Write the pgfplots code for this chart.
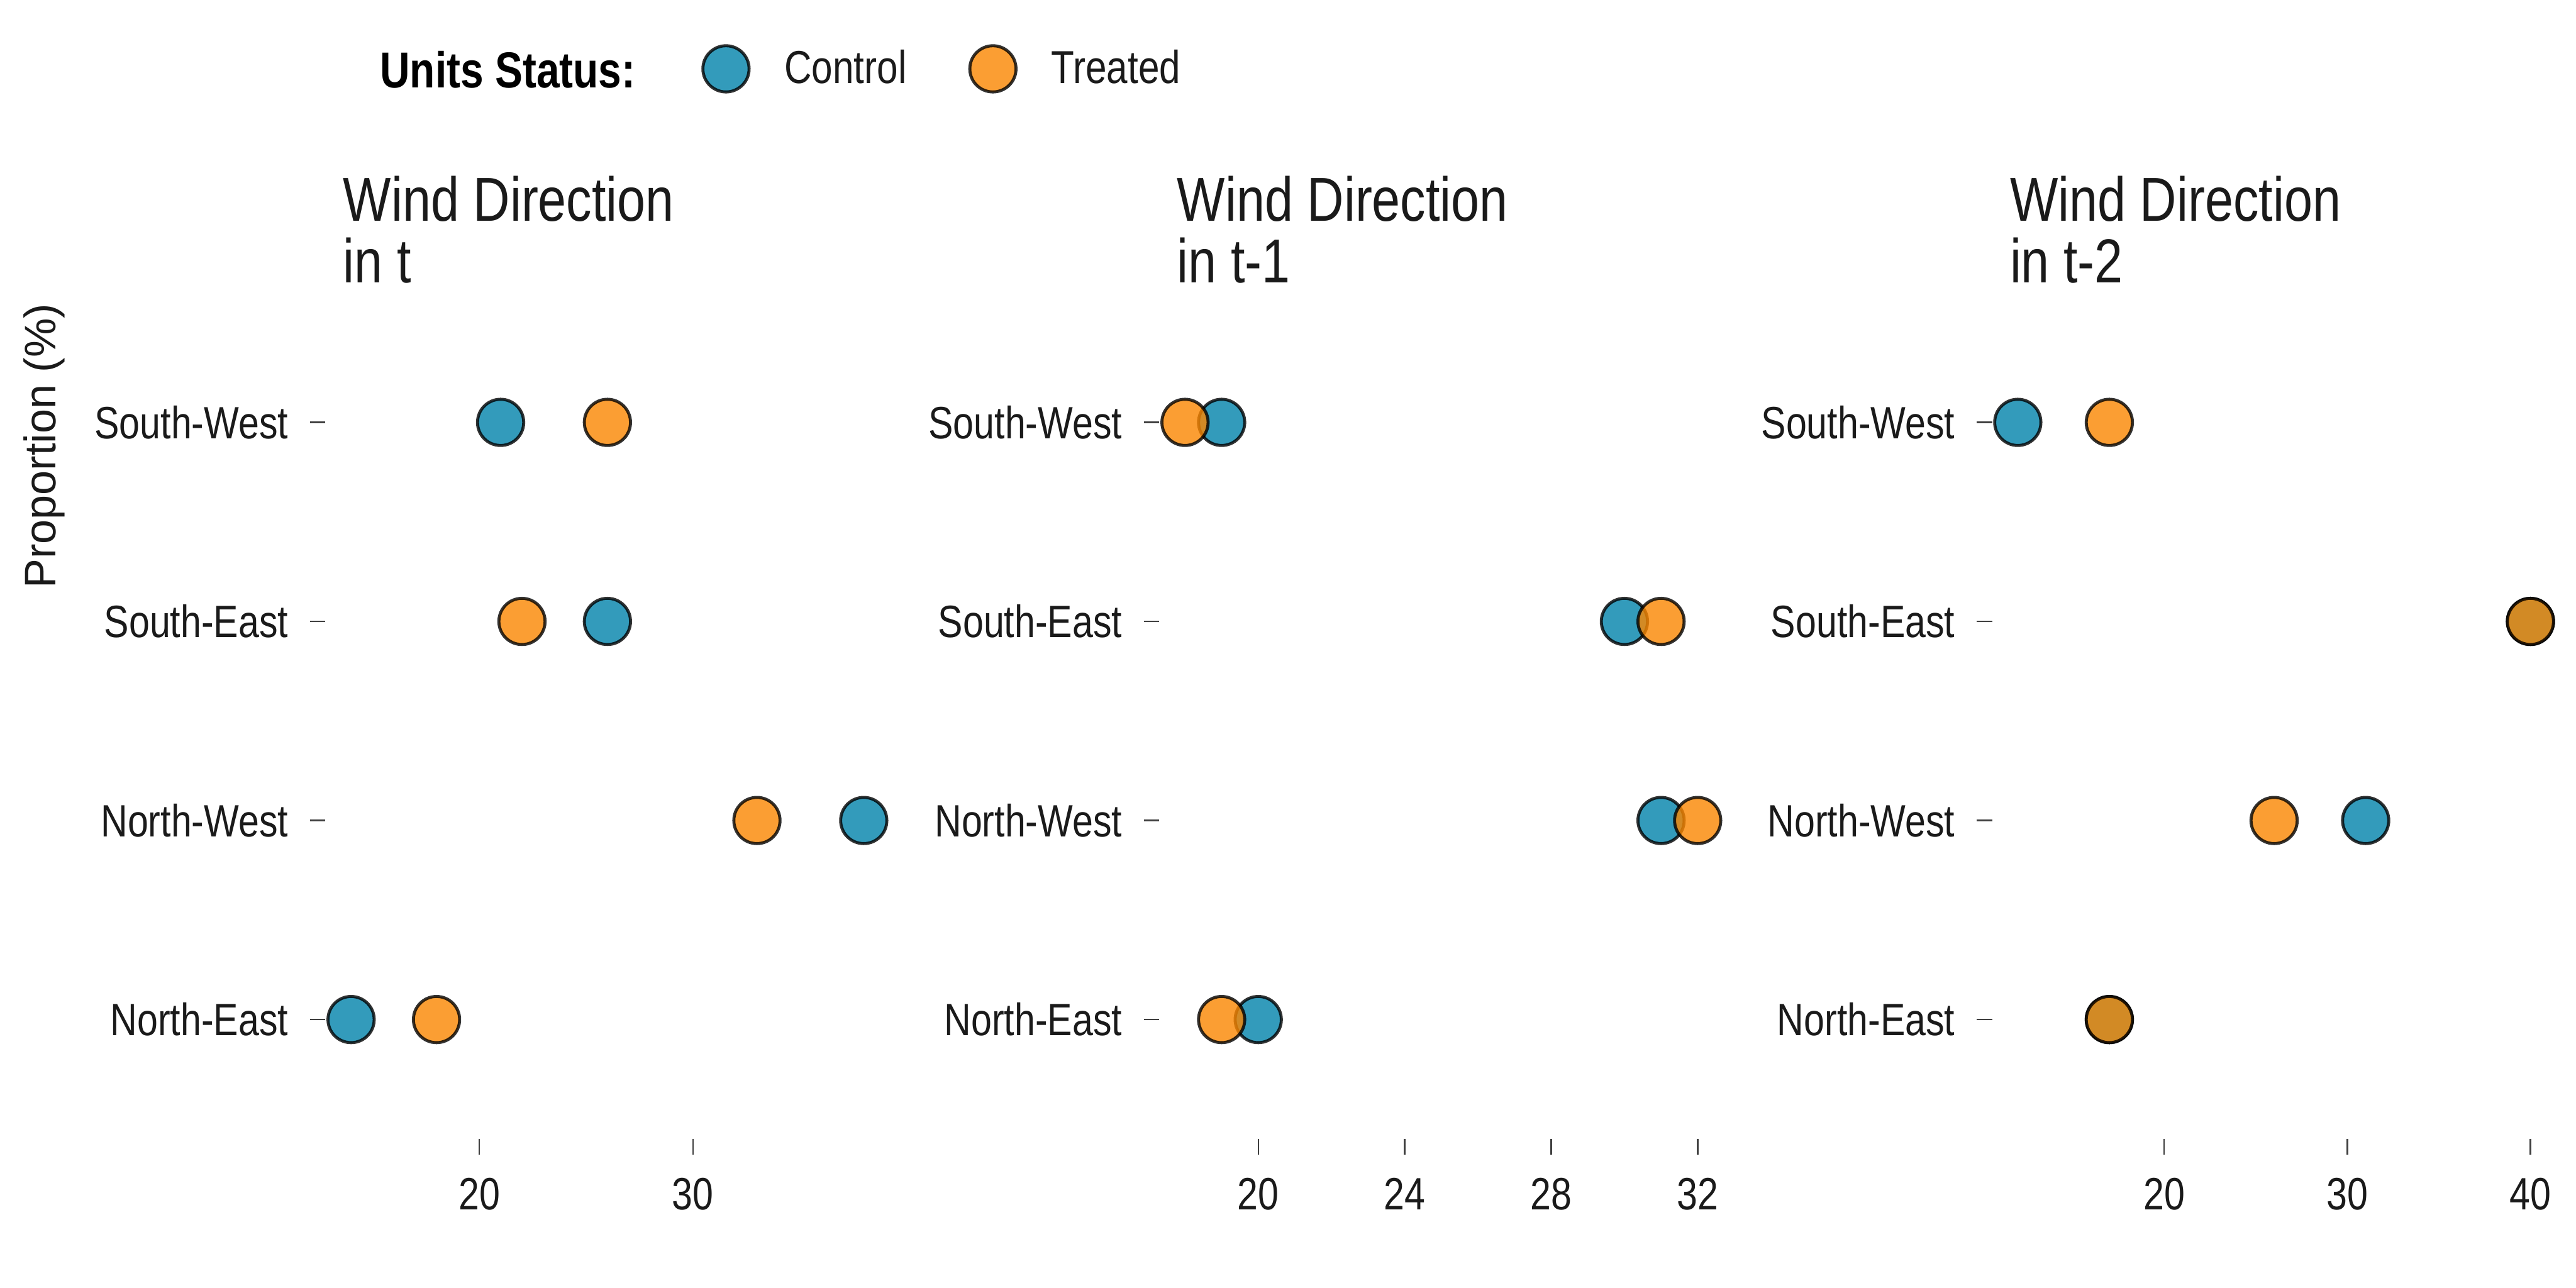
\documentclass[border=0pt]{standalone}
\usepackage{fontspec}
\setmainfont{Liberation Sans}[FakeStretch=0.82]
\newfontfamily\regfont{Liberation Sans}
\usepackage{pgfplots}
\usepackage{pgfplotstable}
\pgfplotsset{compat=1.18}
\definecolor{ctrl}{HTML}{0082AA}
\definecolor{trt}{HTML}{FA8600}
\definecolor{txt}{HTML}{1A1A1A}

% cat: 1 North-East, 2 North-West, 3 South-East, 4 South-West
\pgfplotstableread{
cat ctrl trt
1 14 18
2 38 33
3 26 22
4 21 26
}\tabA
\pgfplotstableread{
cat ctrl trt
1 20 19
2 31 32
3 30 31
4 19 18
}\tabB
\pgfplotstableread{
cat ctrl trt
1 17 17
2 31 26
3 40 40
4 12 17
}\tabC

\pgfplotsset{
 panel/.style={
  scale only axis, width=6.865cm, height=10.178cm, anchor=south west,
  ymin=0.4, ymax=4.6, ytick={1,2,3,4},
  yticklabels={North-East,North-West,South-East,South-West},
  axis line style={draw=none},
  tick align=outside, tick pos=left,
  major tick length=0.19cm,
  tick style={line width=0.5pt, color=black!75},
  ticklabel style={font=\fontsize{15.7}{18}\selectfont, text=txt},
  yticklabel style={xshift=-0.14cm},
  xticklabel style={yshift=-0.16cm},
  /pgf/number format/assume math mode=true,
  clip=false,
 },
 ctrlm/.style={only marks, mark=*, mark size=8pt, color=ctrl,
   mark options={draw=black, fill=ctrl, draw opacity=0.8, fill opacity=0.8, line width=1.05pt}},
 trtm/.style={only marks, mark=*, mark size=8pt, color=trt,
   mark options={draw=black, fill=trt, draw opacity=0.8, fill opacity=0.8, line width=1.05pt}},
}

\begin{document}
\begin{tikzpicture}
\path[use as bounding box] (0,0) rectangle (31.36cm,15.68cm);

\begin{axis}[panel, at={(3.962cm,1.814cm)}, xmin=12.8, xmax=39.2, xtick={20,30},
  legend columns=2,
  legend style={at={(axis description cs:0.6683,1.2800)}, anchor=west, draw=none, fill=none,
    inner sep=0pt, font=\fontsize{16}{18}\selectfont, text=txt,
    /tikz/every odd column/.append style={column sep=0.36cm},
    /tikz/every even column/.append style={column sep=0.7cm}},
  ]
\addplot[ctrlm] table[x=ctrl,y=cat]{\tabA};
\addlegendentry{Control}
\addplot[trtm] table[x=trt,y=cat]{\tabA};
\addlegendentry{Treated}
\end{axis}

\begin{axis}[panel, at={(14.114cm,1.814cm)}, xmin=17.3, xmax=32.7, xtick={20,24,28,32}]
\addplot[ctrlm] table[x=ctrl,y=cat]{\tabB};
\addplot[trtm] table[x=trt,y=cat]{\tabB};
\end{axis}

\begin{axis}[panel, at={(24.252cm,1.814cm)}, xmin=10.6, xmax=41.4, xtick={20,30,40}]
\addplot[ctrlm] table[x=ctrl,y=cat]{\tabC};
\addplot[trtm] table[x=trt,y=cat]{\tabC};
\end{axis}

% panel titles
\foreach \xx/\lab in {4.172/{in t}, 14.324/{in t-1}, 24.462/{in t-2}}{
  \node[anchor=base west, inner sep=0pt, text=txt, font=\fontsize{21.5}{24}\selectfont] at (\xx cm,12.986cm) {Wind Direction};
  \node[anchor=base west, inner sep=0pt, text=txt, font=\fontsize{21.5}{24}\selectfont] at (\xx cm,12.239cm) {\lab};
}
% legend title
\node[anchor=base west, inner sep=0pt, font=\fontsize{17.5}{20}\bfseries] at (4.62cm,14.61cm) {Units Status:};
% y axis title
\node[anchor=base, rotate=90, inner sep=0pt, text=txt, font=\regfont\fontsize{15.3}{18}\selectfont] at (0.68cm,10.25cm) {Proportion (\%)};
\end{tikzpicture}
\end{document}
